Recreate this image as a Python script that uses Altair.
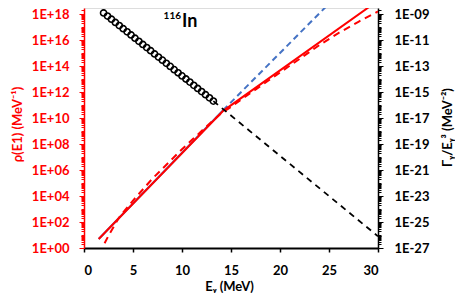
import altair as alt
import pandas as pd

# ---------------- data ----------------
# black open circles (right axis), E in MeV, value as log10
circ_E = [2.0, 2.4, 2.8, 3.2, 3.6, 4.0, 4.4, 4.8, 5.2, 5.6, 6.0, 6.4, 6.8, 7.2,
          7.6, 8.0, 8.4, 8.8, 9.2, 9.6, 10.0, 10.4, 10.8, 11.2, 11.6, 12.0,
          12.4, 12.8, 13.2]
circ_log = [-8.92, -9.16, -9.40, -9.65, -9.89, -10.13, -10.37, -10.61, -10.86,
            -11.10, -11.34, -11.58, -11.82, -12.07, -12.31, -12.55, -12.79,
            -13.03, -13.28, -13.52, -13.76, -14.00, -14.24, -14.49, -14.73,
            -14.97, -15.21, -15.45, -15.70]

# black dashed extrapolation (right axis)
bdash_E = [13.2, 30.0]
bdash_log = [-15.70, -26.10]

# red solid (left axis)
rsol_E = [1.5, 14.2, 30.0]
rsol_log = [0.69, 10.55, 19.03]

# red dashed (left axis)
rdash_E = [2.1, 2.5, 3.0, 3.5, 4.0, 5.0, 6.0, 7.0, 8.0, 9.0, 10.0, 11.0, 12.0,
           13.0, 14.0, 15.0, 16.0, 18.0, 20.0, 22.0, 24.0, 26.0, 28.0, 30.0]
rdash_log = [0.36, 0.95, 1.60, 2.25, 2.75, 3.65, 4.50, 5.35, 6.10, 6.85, 7.60,
             8.30, 9.00, 9.70, 10.35, 10.85, 11.40, 12.45, 13.50, 14.55, 15.60,
             16.55, 17.40, 18.20]

# blue solid and blue dashed (left axis)
bsol_E = [1.5, 14.2]
bsol_log = [0.69, 10.60]
bdsh_E = [14.2, 25.4]
bdsh_log = [10.60, 19.10]

# tick labels
x_ticks = [0, 5, 10, 15, 20, 25, 30]
left_decades = list(range(0, 19))       # 1E+00 .. 1E+18
right_decades = list(range(-27, -8))    # 1E-27 .. 1E-09

RED = "#ff0000"
BLUE = "#4472c4"
FONT = "Lato"


def frame(E, lg):
    return pd.DataFrame({"E": E, "v": [10 ** g for g in lg]})


def minor_values(decades):
    vals = []
    for d in decades:
        for k in range(1, 10):
            vals.append(k * 10.0 ** d)
    vals.append(10.0 ** (decades[-1] + 1))
    return vals


E_EXPR = "round(log(datum.value)/LN10)"
IS_DEC = "abs(log(datum.value)/LN10 - " + E_EXPR + ") < 0.001"

left_label = (
    IS_DEC + " && " + E_EXPR + " % 2 == 0 && " + E_EXPR + " <= 18 ? '1E+' + ("
    + E_EXPR + " < 10 ? '0' : '') + " + E_EXPR + " : ''"
)
right_label = (
    IS_DEC + " && abs(" + E_EXPR + ") % 2 == 1 && " + E_EXPR + " <= -9 ? '1E-' + (abs("
    + E_EXPR + ") < 10 ? '0' : '') + abs(" + E_EXPR + ") : ''"
)

left_tick_size = {"condition": {"test": IS_DEC + " && " + E_EXPR + " % 2 == 0",
                                "value": 5}, "value": 3}
right_tick_size = {"condition": {"test": IS_DEC + " && abs(" + E_EXPR + ") % 2 == 1",
                                 "value": 5}, "value": 3}

x_enc = alt.X(
    "E:Q",
    scale=alt.Scale(domain=[0, 30], nice=False, zero=False),
    axis=alt.Axis(
        values=x_ticks, title="Eᵧ (MeV)", grid=False,
        domainColor="black", domainWidth=2, tickColor="black", tickSize=4,
        tickWidth=1.5, labelColor="black", labelFont=FONT, labelFontSize=13,
        labelFontWeight="bold", labelPadding=12,
        titleFont=FONT, titleFontSize=13, titleFontWeight="bold",
        titleColor="black", titleX=145, titleY=38, titleBaseline="middle",
        titleAlign="center",
    ),
)

left_axis = alt.Axis(
    orient="left", values=minor_values(left_decades), labelExpr=left_label,
    labelOverlap=False, labelBound=False, grid=False,
    domainColor=RED, domainWidth=1.5, tickColor=RED, tickWidth=1,
    tickSize=left_tick_size, labelColor=RED, labelFont=FONT, labelFontSize=13,
    labelFontWeight="bold", labelPadding=10,
    title="ρ(E1) (MeV⁻¹)", titleColor=RED, titleFont=FONT, titleFontSize=13,
    titleFontWeight="bold", titleX=-67, titleY=116, titleAngle=270,
    titleAlign="center", titleBaseline="middle",
)

right_axis = alt.Axis(
    orient="right", values=minor_values(right_decades), labelExpr=right_label,
    labelOverlap=False, labelBound=False, grid=False,
    domainColor="black", domainWidth=1.5, tickColor="black", tickWidth=1,
    tickSize=right_tick_size, labelColor="black", labelFont=FONT,
    labelFontSize=13, labelFontWeight="bold", labelPadding=11,
    title="Γᵧ/Eᵧ³ (MeV⁻²)", titleColor="black", titleFont=FONT,
    titleFontSize=13, titleFontWeight="bold", titleX=69, titleY=119,
    titleAngle=270, titleAlign="center", titleBaseline="middle",
)

TOP_DEC = 240 / 13.0
y_left = alt.Y("v:Q", scale=alt.Scale(type="log", domain=[1, 10 ** TOP_DEC],
                                      nice=False), axis=left_axis)
y_right = alt.Y("v:Q", scale=alt.Scale(type="log",
                                       domain=[1e-27, 10 ** (-27 + TOP_DEC)],
                                       nice=False), axis=right_axis)

blue_solid = alt.Chart(frame(bsol_E, bsol_log)).mark_line(
    color=BLUE, strokeWidth=2, clip=True).encode(x=x_enc, y=y_left)
blue_dash = alt.Chart(frame(bdsh_E, bdsh_log)).mark_line(
    color=BLUE, strokeWidth=2, strokeDash=[6, 4], clip=True).encode(x=x_enc, y=y_left)
red_dash = alt.Chart(frame(rdash_E, rdash_log)).mark_line(
    color=RED, strokeWidth=2, strokeDash=[7, 5], clip=True).encode(x=x_enc, y=y_left)
red_solid = alt.Chart(frame(rsol_E, rsol_log)).mark_line(
    color=RED, strokeWidth=2, clip=True).encode(x=x_enc, y=y_left)

label_df = pd.DataFrame({"E": [9.9], "v": [10 ** 17.85], "t": ["116"]})
label_df2 = pd.DataFrame({"E": [10.0], "v": [10 ** 17.38], "t": ["In"]})
txt116 = alt.Chart(label_df).mark_text(
    font=FONT, fontSize=10, fontWeight="bold", align="right",
    baseline="middle", color="black").encode(x=x_enc, y=y_left, text="t:N")
txtIn = alt.Chart(label_df2).mark_text(
    font=FONT, fontSize=18, fontWeight="bold", align="left",
    baseline="middle", color="black").encode(x=x_enc, y=y_left, text="t:N")

left = alt.layer(blue_solid, blue_dash, red_dash, red_solid, txt116, txtIn)

black_dash = alt.Chart(frame(bdash_E, bdash_log)).mark_line(
    color="black", strokeWidth=1.8, strokeDash=[6, 5], clip=True).encode(
    x=x_enc, y=y_right)
circles = alt.Chart(frame(circ_E, circ_log)).mark_point(
    shape="circle", filled=False, size=38, strokeWidth=1.6, color="black",
    opacity=1, clip=True).encode(x=x_enc, y=y_right)

right = alt.layer(black_dash, circles)

chart = alt.layer(left, right).resolve_scale(y="independent").properties(
    width=294, height=240,
    autosize=alt.AutoSizeParams(type="none"),
    padding={"left": 76, "top": 0, "right": 77, "bottom": 45},
).configure_view(stroke="black", strokeWidth=1.5).configure(background="white")

chart.save("out.html", embed_options={"renderer": "svg", "actions": False})
